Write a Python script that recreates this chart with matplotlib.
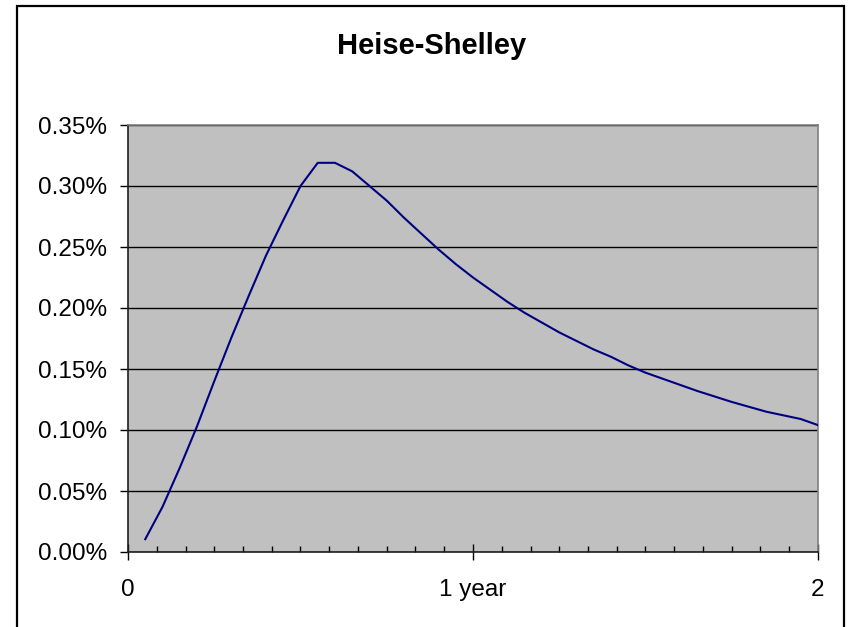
import matplotlib
matplotlib.use("Agg")
import matplotlib.pyplot as plt
from matplotlib.patches import Rectangle
from matplotlib.ticker import FuncFormatter, MultipleLocator
import numpy as np

# Heise-Shelley curve, one point every 0.05 years (values in %)
years = [round(0.05 * k, 2) for k in range(1, 41)]
rate_pct = [
    0.0105, 0.037, 0.069, 0.103, 0.140, 0.176, 0.210, 0.243, 0.272, 0.300,
    0.319, 0.319, 0.312, 0.300, 0.288, 0.274, 0.261, 0.248, 0.236, 0.225,
    0.215, 0.205, 0.196, 0.188, 0.180, 0.173, 0.166, 0.160, 0.153, 0.147,
    0.142, 0.137, 0.132, 0.1275, 0.123, 0.119, 0.115, 0.112, 0.109, 0.104,
]
x_labels = ["0", "1 year", "2"]

plt.rcParams["font.family"] = ["Liberation Sans", "DejaVu Sans"]

fig = plt.figure(figsize=(8.48, 6.27), dpi=100)
ax = fig.add_axes([128 / 848, 1 - 552 / 627, 690 / 848, 427 / 627])

# chart frame (runs off the bottom edge)
fig.patches.append(Rectangle((17 / 848, -0.05), 827 / 848, 1.05 - 6 / 627,
                             transform=fig.transFigure, fill=False,
                             edgecolor="black", linewidth=1.6))

ax.set_facecolor("#C0C0C0")
ax.plot(years, rate_pct, color="#000080", linewidth=1.5, zorder=3)

ax.set_xlim(0, 2)
ax.set_ylim(0, 0.35)

ax.yaxis.set_major_locator(MultipleLocator(0.05))
ax.yaxis.set_major_formatter(FuncFormatter(lambda v, p: f"{v:.2f}%"))
ax.grid(axis="y", color="black", linewidth=1.0)

ax.set_xticks([0, 1, 2])
ax.set_xticklabels(x_labels)
ax.xaxis.set_minor_locator(MultipleLocator(1 / 12))

ax.tick_params(axis="y", direction="out", length=6, width=1, labelsize=17.5, pad=9)
ax.tick_params(axis="x", which="major", direction="inout", length=11, width=1,
               labelsize=17.5, pad=14)
ax.tick_params(axis="x", which="minor", direction="in", length=4.5, width=1)

for s in ["left", "bottom"]:
    ax.spines[s].set_color("#202020")
    ax.spines[s].set_linewidth(1.2)
for s in ["top", "right"]:
    ax.spines[s].set_color("#808080")
    ax.spines[s].set_linewidth(1.2)

fig.text(432 / 848, 1 - 46 / 627, "Heise-Shelley", ha="center", va="center",
         fontsize=21, fontweight="bold")

fig.savefig("out.png", dpi=100)
